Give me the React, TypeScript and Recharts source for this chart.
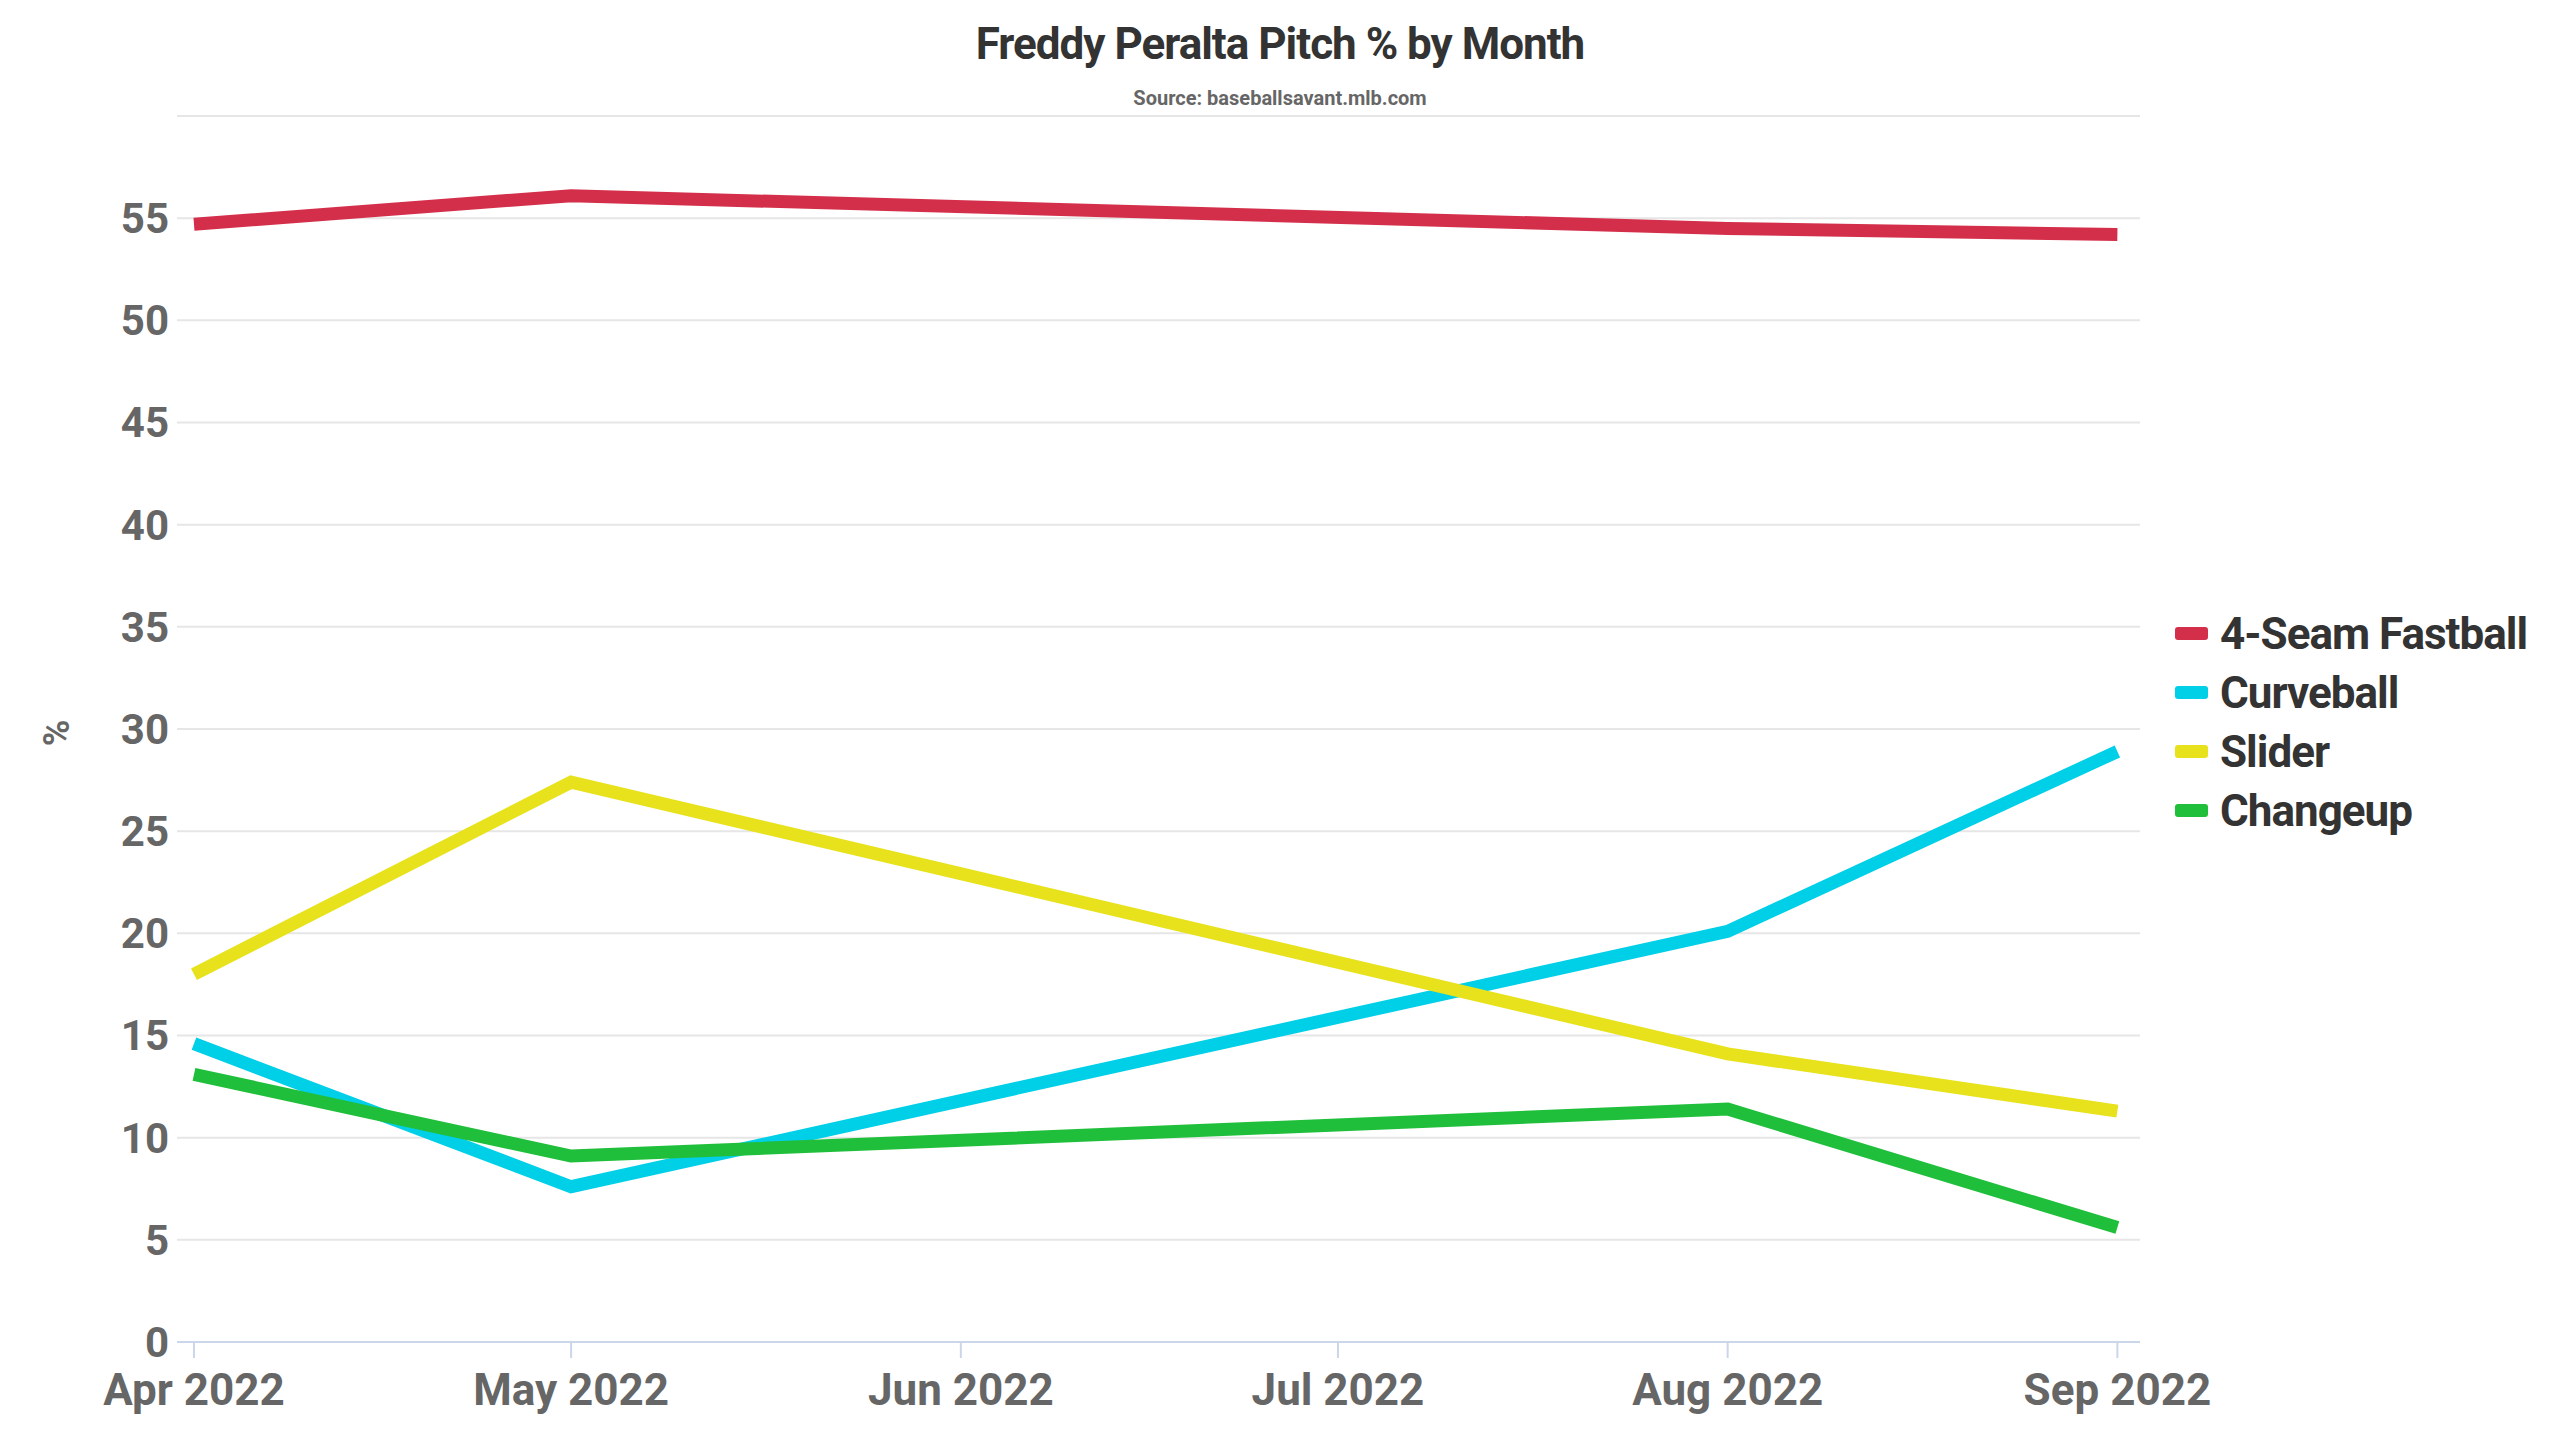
import React from "react";
import { CartesianGrid, Legend, Line, LineChart, XAxis, YAxis } from "recharts";

const months = ["2022-04-01", "2022-05-01", "2022-06-01", "2022-07-01", "2022-08-01", "2022-09-01"];
const dataMonths = ["2022-04-01", "2022-05-01", "2022-08-01", "2022-09-01"];
const fastball = [54.7, 56.1, 54.5, 54.2];
const curveball = [14.6, 7.6, 20.1, 28.9];
const slider = [18.0, 27.4, 14.1, 11.3];
const changeup = [13.1, 9.1, 11.4, 5.6];
const yTicks = [0, 5, 10, 15, 20, 25, 30, 35, 40, 45, 50, 55];

const ts = (d: string) => Date.parse(d + "T00:00:00Z");
const DAY = 86400000;
const monthNames = ["Jan", "Feb", "Mar", "Apr", "May", "Jun", "Jul", "Aug", "Sep", "Oct", "Nov", "Dec"];

const series = [
  { key: "fastball", name: "4-Seam Fastball", color: "#d42f4a" },
  { key: "curveball", name: "Curveball", color: "#00cfe8" },
  { key: "slider", name: "Slider", color: "#e8e21c" },
  { key: "changeup", name: "Changeup", color: "#20bf3b" },
];

const data = dataMonths.map((m, i) => ({
  t: ts(m),
  fastball: fastball[i],
  curveball: curveball[i],
  slider: slider[i],
  changeup: changeup[i],
}));

const font = "Roboto, sans-serif";

function LegendBox() {
  return (
    <div style={{ position: "absolute", left: 2175, top: 604, fontFamily: font }}>
      {series.map((s) => (
        <div key={s.key} style={{ display: "flex", alignItems: "center", height: 59 }}>
          <div style={{ width: 33, height: 13, background: s.color, borderRadius: 3, marginRight: 12 }} />
          <span style={{ fontSize: 44, fontWeight: 700, color: "#333", letterSpacing: -1 }}>{s.name}</span>
        </div>
      ))}
    </div>
  );
}

export default function App() {
  return (
    <div style={{ position: "relative", width: 2560, height: 1440, background: "#fff" }}>
      <style>{"body{margin:0}"}</style>
      <div style={{ position: "absolute", top: 18, width: 2560, textAlign: "center", fontFamily: font, fontWeight: 700, fontSize: 44, color: "#333", letterSpacing: -1 }}>
        Freddy Peralta Pitch % by Month
      </div>
      <div style={{ position: "absolute", top: 86, width: 2560, textAlign: "center", fontFamily: font, fontWeight: 700, fontSize: 20, color: "#666" }}>
        Source: baseballsavant.mlb.com
      </div>
      <div style={{ position: "absolute", left: 44, top: 712, transform: "rotate(-90deg)", fontFamily: font, fontWeight: 700, fontSize: 36, color: "#666" }}>%</div>
      <LineChart width={2560} height={1440} data={data} margin={{ top: 116, right: 420, bottom: 18, left: 77 }}>
        <CartesianGrid vertical={false} stroke="#e6e6e6" strokeWidth={2} />
        <XAxis
          dataKey="t"
          type="number"
          scale="time"
          domain={[ts(months[0]) - 1.35 * DAY, ts(months[5]) + 1.8 * DAY]}
          ticks={months.map(ts)}
          tickFormatter={(v: number) => {
            const d = new Date(v);
            return `${monthNames[d.getUTCMonth()]} ${d.getUTCFullYear()}`;
          }}
          height={80}
          stroke="#ccd6eb"
          strokeWidth={2}
          tickSize={16}
          tick={{ fill: "#666", fontSize: 44, fontWeight: 700, fontFamily: font, dy: 14 }}
          interval={0}
        />
        <YAxis
          domain={[0, 60]}
          ticks={yTicks}
          width={100}
          axisLine={false}
          tickLine={false}
          tick={{ fill: "#666", fontSize: 42, fontWeight: 700, fontFamily: font }}
        />
        <Legend content={() => null} />
        {series.map((s) => (
          <Line
            key={s.key}
            dataKey={s.key}
            name={s.name}
            stroke={s.color}
            strokeWidth={13}
            dot={false}
            isAnimationActive={false}
          />
        ))}
      </LineChart>
      <LegendBox />
    </div>
  );
}
